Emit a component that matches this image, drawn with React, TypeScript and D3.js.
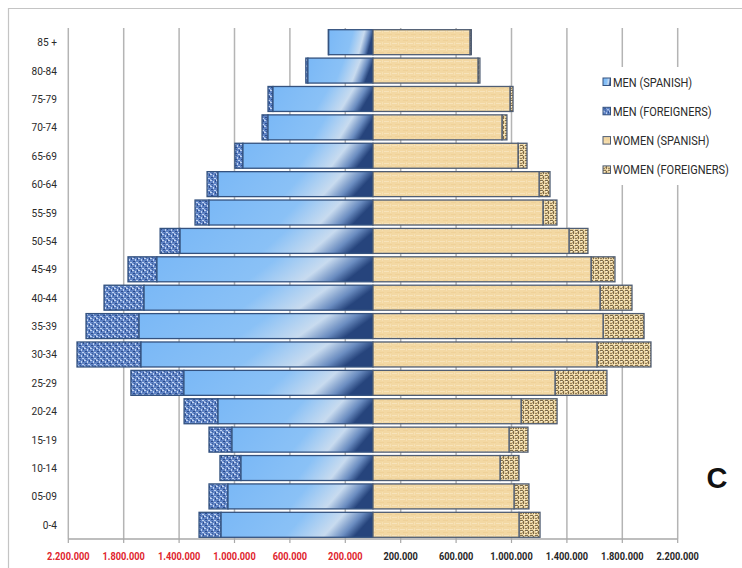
import React from 'react';
import * as d3 from 'd3';

// Age groups (bottom to top)
const ages = ["0-4", "05-09", "10-14", "15-19", "20-24", "25-29", "30-34", "35-39", "40-44", "45-49", "50-54", "55-59", "60-64", "65-69", "70-74", "75-79", "80-84", "85 +"];
const menSpanish = [1097000, 1047000, 953000, 1018000, 1119000, 1365000, 1675000, 1689000, 1653000, 1560000, 1393000, 1184000, 1119000, 939000, 758000, 722000, 470000, 320000];
const menForeigners = [159000, 137000, 152000, 166000, 245000, 383000, 462000, 383000, 289000, 209000, 144000, 101000, 79000, 58000, 43000, 36000, 15000, 3000];
const womenSpanish = [1054000, 1018000, 917000, 982000, 1069000, 1314000, 1617000, 1661000, 1639000, 1574000, 1415000, 1227000, 1199000, 1047000, 931000, 989000, 758000, 700000];
const womenForeigners = [152000, 108000, 137000, 137000, 260000, 375000, 390000, 296000, 231000, 173000, 137000, 101000, 79000, 65000, 36000, 22000, 14000, 10000];
const tickValues = [-2200000, -1800000, -1400000, -1000000, -600000, -200000, 200000, 600000, 1000000, 1400000, 1800000, 2200000];
const legendLabels = ["MEN (SPANISH)", "MEN (FOREIGNERS)", "WOMEN (SPANISH)", "WOMEN (FOREIGNERS)"];
const cornerLabel = "C";

const W = 742;
const H = 568;
const FONT = "Roboto,'Liberation Sans',sans-serif";
const fmt = (v: number) => d3.format(",")(Math.abs(v)).replace(/,/g, ".");

function NarrowText(props: { x: number; y: number; sx: number; anchor?: string; size: number; weight?: string; fill: string; children: React.ReactNode }) {
  return (
    <g transform={`translate(${props.x},${props.y}) scale(${props.sx},1)`}>
      <text x={0} y={0} textAnchor={props.anchor || 'start'} fontFamily={FONT} fontSize={props.size} fontWeight={props.weight || 'normal'} fill={props.fill}>{props.children}</text>
    </g>
  );
}

export default function App() {
  const x = d3.scaleLinear().domain([-2200000, 2200000]).range([68.3, 677.7]);
  const y = d3.scaleBand<string>().domain([...ages].reverse()).range([28, 539]).paddingInner(0.12).paddingOuter(0.06);
  const bw = y.bandwidth();
  const x0 = x(0);
  const axisY = 539;

  const fills = ["url(#msGrad)", "url(#mfPat)", "url(#wsPat)", "url(#wfPat)"];
  const strokes = ["#34527f", "#34527f", "#4f5d73", "#4f5d73"];

  return (
    <svg width={W} height={H} style={{ position: 'absolute', left: 0, top: 0, background: '#fff' }}>
      <defs>
        <linearGradient id="msGrad" x1="0" y1="0" x2="1" y2="0.15">
          <stop offset="0" stopColor="#7ab8f6" />
          <stop offset="0.55" stopColor="#8ac1f6" />
          <stop offset="0.8" stopColor="#c8dbef" />
          <stop offset="0.92" stopColor="#6a8cc0" />
          <stop offset="1" stopColor="#26447c" />
        </linearGradient>
        <pattern id="mfPat" width="6" height="6" patternUnits="userSpaceOnUse">
          <rect width="6" height="6" fill="#5f83c4" />
          <rect x="0" y="0" width="2" height="1" fill="#c3d4f2" />
          <rect x="3" y="1" width="1" height="2" fill="#c3d4f2" />
          <rect x="1" y="3" width="2" height="1" fill="#2d4d8e" />
          <rect x="4" y="4" width="2" height="1" fill="#c3d4f2" />
          <rect x="5" y="0" width="1" height="2" fill="#2d4d8e" />
          <rect x="0" y="5" width="1" height="1" fill="#a4bde8" />
          <rect x="2" y="5" width="1" height="1" fill="#3a5a98" />
        </pattern>
        <pattern id="wsPat" width="8" height="6" patternUnits="userSpaceOnUse">
          <rect width="8" height="6" fill="#f3d8a3" />
          <rect x="0" y="1" width="5" height="1" fill="#f7e3bb" />
          <rect x="3" y="4" width="5" height="1" fill="#efd199" />
          <rect x="6" y="0" width="1" height="3" fill="#f6e0b4" />
        </pattern>
        <pattern id="wfPat" width="5" height="5" patternUnits="userSpaceOnUse">
          <rect width="5" height="5" fill="#e8d19e" />
          <rect x="0" y="0" width="3" height="1" fill="#7c6a48" />
          <rect x="3" y="1" width="1" height="3" fill="#7c6a48" />
          <rect x="0" y="3" width="2" height="1" fill="#96805a" />
          <rect x="1" y="1" width="1" height="1" fill="#fbf1da" />
          <rect x="4" y="4" width="1" height="1" fill="#fbf1da" />
          <rect x="2" y="2" width="1" height="1" fill="#b39d70" />
        </pattern>
      </defs>

      {/* frame */}
      <line x1={8} y1={8.5} x2={W} y2={8.5} stroke="#c4c4c4" strokeWidth={1.2} />
      <line x1={8.5} y1={8} x2={8.5} y2={H} stroke="#c4c4c4" strokeWidth={1.2} />

      {/* gridlines */}
      {tickValues.map((t) => (
        <line key={'g' + t} x1={x(t)} x2={x(t)} y1={28} y2={axisY} stroke="#b4b4b4" strokeWidth={1.5} />
      ))}

      {/* bars */}
      {ages.map((a, i) => {
        const yy = y(a)!;
        const ms = menSpanish[i], mf = menForeigners[i], ws = womenSpanish[i], wf = womenForeigners[i];
        return (
          <g key={a}>
            <rect x={x(-(ms + mf))} y={yy} width={x(-ms) - x(-(ms + mf))} height={bw} fill={fills[1]} stroke={strokes[1]} strokeWidth={1.3} />
            <rect x={x(-ms)} y={yy} width={x0 - x(-ms)} height={bw} fill={fills[0]} stroke={strokes[0]} strokeWidth={1.3} />
            <rect x={x(ws)} y={yy} width={x(ws + wf) - x(ws)} height={bw} fill={fills[3]} stroke={strokes[3]} strokeWidth={1.3} />
            <rect x={x0} y={yy} width={x(ws) - x0} height={bw} fill={fills[2]} stroke={strokes[2]} strokeWidth={1.3} />
          </g>
        );
      })}

      {/* axis */}
      <line x1={x(-2200000)} x2={x(2200000)} y1={axisY} y2={axisY} stroke="#a8a8a8" strokeWidth={1.5} />
      {tickValues.map((t) => (
        <g key={'t' + t}>
          <line x1={x(t)} x2={x(t)} y1={axisY} y2={axisY + 4} stroke="#a8a8a8" strokeWidth={1.2} />
          <NarrowText x={x(t)} y={560} sx={0.84} anchor="middle" size={11} weight="bold" fill={t < 0 ? '#e0242c' : '#262626'}>{fmt(t)}</NarrowText>
        </g>
      ))}

      {/* age labels */}
      {ages.map((a) => (
        <NarrowText key={'l' + a} x={57} y={y(a)! + bw / 2 + 4} sx={0.88} anchor="end" size={11.5} fill="#2a2a2a">{a}</NarrowText>
      ))}

      {/* legend */}
      <rect x={598} y={67} width={144} height={118} fill="#fff" />
      {legendLabels.map((l, i) => (
        <g key={l} transform={`translate(603,${82 + i * 29.3})`}>
          <rect x={0} y={-4} width={7.5} height={7.5} fill={fills[i]} stroke={strokes[i]} strokeWidth={1} />
          <NarrowText x={10} y={4.5} sx={0.88} size={12.5} fill="#2a2a2a">{l}</NarrowText>
        </g>
      ))}

      <text x={717} y={488} textAnchor="middle" fontFamily="'Liberation Sans',Arial,sans-serif" fontWeight="bold" fontSize={29} fill="#111">{cornerLabel}</text>
    </svg>
  );
}
